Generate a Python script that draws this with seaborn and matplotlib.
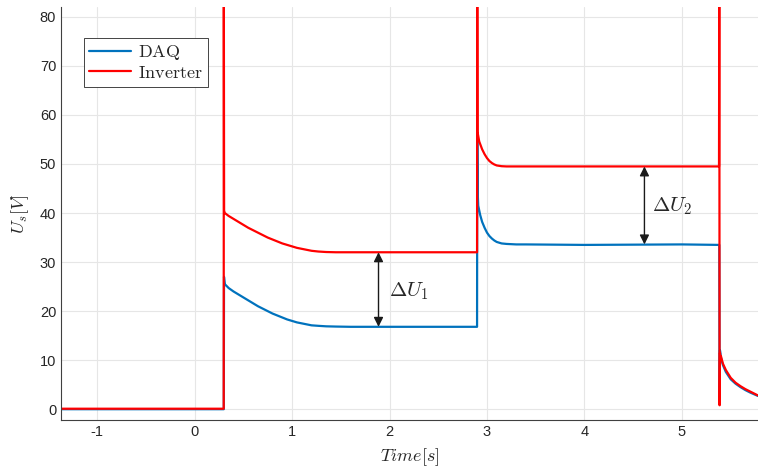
import numpy as np
import pandas as pd
import seaborn as sns
import matplotlib.pyplot as plt

daq_time = [-1.37, 0.300, 0.302, 0.31, 0.35, 0.40, 0.45, 0.50, 0.55, 0.60,
            0.65, 0.70, 0.75, 0.80, 0.85, 0.90, 0.95, 1.00, 1.05, 1.10, 1.15,
            1.20, 1.27, 1.35, 1.45, 1.60, 2.898, 2.90, 2.905, 2.91, 2.93, 2.95,
            2.975, 3.00, 3.025, 3.05, 3.075, 3.10, 3.15, 3.20, 3.30, 3.40,
            4.00, 5.00, 5.383, 5.386, 5.39, 5.40, 5.42, 5.45, 5.50, 5.55,
            5.60, 5.65, 5.70, 5.78]
daq_volt = [0.0, 0.0, 27.0, 25.5, 24.7, 24.0, 23.4, 22.8, 22.2, 21.6,
            21.0, 20.5, 20.0, 19.5, 19.1, 18.7, 18.3, 18.0, 17.7, 17.5, 17.3,
            17.1, 17.0, 16.9, 16.85, 16.8, 16.8, 56.5, 44.0, 41.5, 39.6, 38.2,
            37.0, 36.0, 35.3, 34.8, 34.4, 34.1, 33.8, 33.7, 33.6, 33.6,
            33.5, 33.6, 33.5, 1.5, 12.0, 10.5, 9.0, 7.6, 6.1, 5.2,
            4.5, 3.9, 3.4, 2.7]

inv_time = [-1.37, 0.299, 0.300, 0.303, 0.31, 0.35, 0.40, 0.45, 0.50, 0.55,
            0.60, 0.65, 0.70, 0.75, 0.80, 0.85, 0.90, 0.95, 1.00, 1.05, 1.10,
            1.15, 1.20, 1.27, 1.35, 1.45, 1.60, 2.898, 2.900, 2.903, 2.92,
            2.95, 2.975, 3.00, 3.025, 3.05, 3.075, 3.10, 3.15, 3.20, 5.380,
            5.383, 5.386, 5.39, 5.395, 5.40, 5.42, 5.45, 5.50, 5.55, 5.60,
            5.65, 5.70, 5.78]
inv_volt = [0.1, 0.1, 90.0, 40.5, 40.0, 39.4, 38.8, 38.2, 37.6, 37.0,
            36.5, 36.0, 35.5, 35.0, 34.6, 34.2, 33.8, 33.5, 33.2, 32.9, 32.7,
            32.5, 32.3, 32.15, 32.05, 32.0, 32.0, 32.0, 90.0, 56.5, 54.6,
            53.0, 52.0, 51.2, 50.6, 50.2, 49.9, 49.7, 49.55, 49.5, 49.5,
            90.0, 0.8, 11.5, 10.0, 10.8, 9.3, 8.0, 6.4, 5.4, 4.7,
            4.1, 3.6, 2.8]

x_ticks = [-1, 0, 1, 2, 3, 4, 5]
y_ticks = [0, 10, 20, 30, 40, 50, 60, 70, 80]

# (x, y_top, y_bottom, label, label_x, label_y)
deltas = [(1.887, 32.0, 16.8, r'$\Delta U_1$', 1.99, 24.0),
          (4.615, 49.5, 33.6, r'$\Delta U_2$', 4.69, 41.3)]

sns.set_style('white')
plt.rcParams['font.family'] = ['Liberation Sans', 'DejaVu Sans']
plt.rcParams['mathtext.fontset'] = 'cm'
plt.rcParams['axes.unicode_minus'] = False

fig = plt.figure(figsize=(7.58, 4.70), dpi=100)
ax = fig.add_axes([0.0805, 0.1064, 0.9195, 0.8786])

sns.lineplot(x=daq_time, y=daq_volt, estimator=None, sort=False, ax=ax,
             color='#0072BD', linewidth=1.6, label=r'$\mathrm{DAQ}$')
sns.lineplot(x=inv_time, y=inv_volt, estimator=None, sort=False, ax=ax,
             color='#FF0000', linewidth=1.6, label=r'$\mathrm{Inverter}$')

for x, y1, y2, lab, lx, ly in deltas:
    ax.annotate('', xy=(x, y2), xytext=(x, y1),
                arrowprops=dict(arrowstyle='<|-|>', color='#1a1a1a', lw=1.0,
                                mutation_scale=14, shrinkA=0, shrinkB=0))
    ax.text(lx, ly, lab, fontsize=15, color='#262626', ha='left', va='center')

ax.set_xlim(-1.37, 5.78)
ax.set_ylim(-2.2, 82)
ax.set_xticks(x_ticks)
ax.set_yticks(y_ticks)
ax.tick_params(direction='in', length=4, width=0.8, color='#404040',
               labelsize=10.5, labelcolor='#262626')
ax.grid(True, color='#e6e6e6', linewidth=0.8)
for side in ['top', 'right']:
    ax.spines[side].set_visible(False)
for side in ['left', 'bottom']:
    ax.spines[side].set_color('#404040')
    ax.spines[side].set_linewidth(0.8)

ax.set_xlabel(r'$Time[s]$', fontsize=13, color='#262626', labelpad=5)
ax.set_ylabel(r'$U_s[V]$', fontsize=13, color='#262626', labelpad=6)

leg = ax.legend(loc='upper left', bbox_to_anchor=(0.033, 0.926), fontsize=13,
                frameon=True, fancybox=False, framealpha=1, edgecolor='#262626',
                handlelength=2.3, borderpad=0.3, labelspacing=0.15,
                handletextpad=0.4, borderaxespad=0)
leg.get_frame().set_linewidth(0.6)

fig.savefig('out.png', dpi=100)
